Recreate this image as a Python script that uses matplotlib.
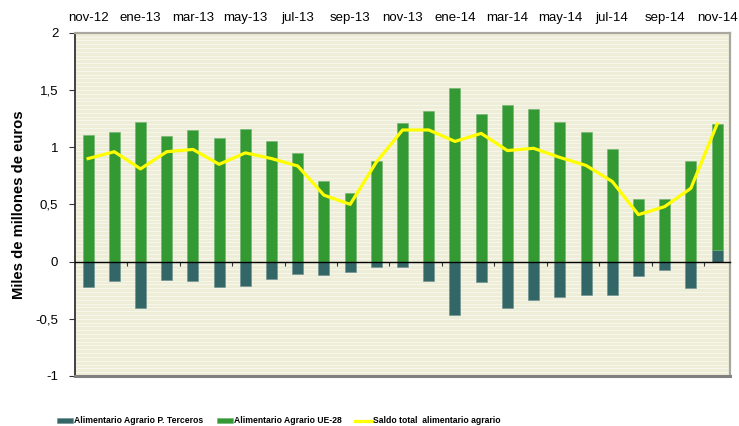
import matplotlib
matplotlib.use('Agg')
import matplotlib.pyplot as plt
import numpy as np

# months nov-12 .. nov-14
meses = ['nov-12', 'dic-12', 'ene-13', 'feb-13', 'mar-13', 'abr-13', 'may-13',
         'jun-13', 'jul-13', 'ago-13', 'sep-13', 'oct-13', 'nov-13', 'dic-13',
         'ene-14', 'feb-14', 'mar-14', 'abr-14', 'may-14', 'jun-14', 'jul-14',
         'ago-14', 'sep-14', 'oct-14', 'nov-14']

terceros = [-0.22, -0.17, -0.41, -0.16, -0.17, -0.22, -0.21, -0.15, -0.11,
            -0.12, -0.09, -0.05, -0.05, -0.17, -0.47, -0.18, -0.41, -0.34,
            -0.31, -0.29, -0.29, -0.13, -0.07, -0.23, 0.10]
ue28 = [1.11, 1.13, 1.22, 1.10, 1.15, 1.08, 1.16, 1.05, 0.95, 0.70, 0.60,
        0.88, 1.21, 1.32, 1.52, 1.29, 1.37, 1.33, 1.22, 1.13, 0.98, 0.55,
        0.55, 0.88, 1.10]
saldo = [0.90, 0.96, 0.81, 0.96, 0.98, 0.85, 0.95, 0.90, 0.835, 0.58, 0.50,
         0.87, 1.15, 1.15, 1.05, 1.12, 0.97, 0.99, 0.91, 0.84, 0.70, 0.41,
         0.48, 0.64, 1.20]

yticks = [-1, -0.5, 0, 0.5, 1, 1.5, 2]
ylabels = ['-1', '-0,5', '0', '0,5', '1', '1,5', '2']

c_ter = '#336666'
c_ue = '#339933'
c_line = '#FFFF00'

fig = plt.figure(figsize=(7.39, 4.26), dpi=100)
ax = fig.add_axes([0.1015, 0.1174, 0.8865, 0.8058])
ax.set_facecolor('#EEEDD8')

# striped background
for yy in np.arange(-1, 2, 1 / 30):
    ax.axhline(yy, color='#F7F6EA', lw=0.8, zorder=0)

x = np.arange(len(meses))
ter = np.array(terceros)
ue = np.array(ue28)
ue_bottom = np.where(ter > 0, ter, 0)

b1 = ax.bar(x, ter, width=0.42, color=c_ter, edgecolor='#6A8F8F', linewidth=0.4,
            zorder=2)
b2 = ax.bar(x, ue, width=0.42, bottom=ue_bottom, color=c_ue, edgecolor='#6FB36F',
            linewidth=0.4, zorder=2)
ln, = ax.plot(x, saldo, color=c_line, lw=2.3, zorder=4)

ax.set_xlim(-0.5, len(meses) - 0.5)
ax.set_ylim(-1, 2)
ax.set_yticks(yticks)
ax.set_yticklabels(ylabels, fontname='Liberation Sans', fontsize=9.5)
ax.tick_params(axis='y', direction='out', length=4, color='#333333', pad=8)

# bottom axis sits on zero line with ticks between every two months
ax.spines['bottom'].set_position(('data', 0))
ax.spines['bottom'].set_color('black')
ax.spines['bottom'].set_linewidth(1.0)
ax.spines['bottom'].set_zorder(5)
ax.set_xticks(np.arange(1.5, len(meses) - 1, 2))
ax.set_xticklabels([])
ax.tick_params(axis='x', direction='out', length=3, width=0.8, color='#333333')

ax.spines['left'].set_color('#333333')
ax.spines['left'].set_linewidth(1.3)
ax.spines['top'].set_color('#A8A8A0')
ax.spines['top'].set_linewidth(1.6)
ax.spines['right'].set_color('#A8A8A0')
ax.spines['right'].set_linewidth(1.6)
ax.axhline(-1, color='#808080', lw=2.2, clip_on=False, zorder=5)

top = ax.secondary_xaxis('top')
top.set_xticks(x[::2])
top.set_xticklabels(meses[::2], fontname='Liberation Sans', fontsize=9.5)
top.tick_params(length=0, pad=6)
top.spines['top'].set_visible(False)

ax.set_ylabel('Miles de millones de euros', fontname='Liberation Sans',
              fontweight='bold', fontsize=10.7, labelpad=7)

fig.legend([b1, b2, ln],
           ['Alimentario Agrario P. Terceros', 'Alimentario Agrario UE-28',
            'Saldo total  alimentario agrario'],
           loc='center left', bbox_to_anchor=(0.066, 0.012), ncol=3,
           frameon=False, prop={'family': 'Liberation Sans', 'weight': 'bold', 'size': 6.2},
           handlelength=1.9, handleheight=0.6, handletextpad=0.1,
           columnspacing=1.6)

fig.savefig('out.png', dpi=100)
